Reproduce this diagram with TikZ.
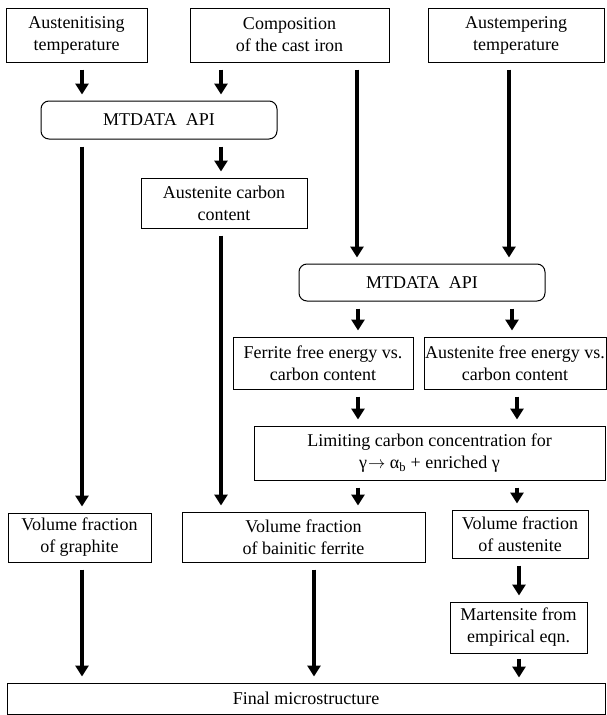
\documentclass[tikz,border=0pt]{standalone}
\usepackage{fontspec}
\setmainfont{Liberation Serif}
\usetikzlibrary{arrows.meta}
\begin{document}
\begin{tikzpicture}[x=1pt,y=-1pt,
  box/.style={draw, line width=1pt, align=center, inner sep=0pt, font=\rmfamily\fontsize{18}{22}\selectfont},
  rbox/.style={box, rounded corners=8pt},
  arr/.style={line width=3.2pt, -{Triangle[width=13pt,length=11pt]}, shorten <=7pt, shorten >=6pt}]
\useasboundingbox (0,0) rectangle (607,715);
% columns
\coordinate (c1) at (82,0);
\coordinate (c2) at (221,0);
\coordinate (c3) at (357,0);
\coordinate (c4) at (509,0);
\coordinate (c5) at (358,0);
\coordinate (c6) at (512,0);
\coordinate (c7) at (517,0);
\coordinate (c8) at (314,0);
\coordinate (c9) at (519,0);
% nodes
\node[box, minimum width=141pt, minimum height=54pt] (A1) at (76.5,35) {Austenitising\\temperature};
\node[box, minimum width=199pt, minimum height=54pt] (A2) at (289.5,35) {Composition\\of the cast iron};
\node[box, minimum width=176pt, minimum height=54pt] (A3) at (516,35) {Austempering\\temperature};
\node[rbox, minimum width=236pt, minimum height=38pt] (M1) at (159,120) {MTDATA\ \ API};
\node[box, minimum width=166pt, minimum height=50pt] (AC) at (224,203) {Austenite carbon\\content};
\node[rbox, minimum width=246pt, minimum height=37pt] (M2) at (422,282.5) {MTDATA\ \ API};
\node[box, minimum width=180pt, minimum height=52pt] (FF) at (323,363) {Ferrite free energy vs.\\carbon content};
\node[box, minimum width=182pt, minimum height=52pt] (AF) at (515,363) {Austenite free energy vs.\\carbon content};
\node[box, minimum width=351pt, minimum height=54pt] (L) at (429.5,453) {Limiting carbon concentration for\\γ\kern1pt$\rightarrow$\ α\textsubscript{b} + enriched γ};
\node[box, minimum width=143pt, minimum height=49pt] (G) at (79.5,537.5) {Volume fraction\\of graphite};
\node[box, minimum width=243pt, minimum height=50pt] (BF) at (303.5,537) {Volume fraction\\of bainitic ferrite};
\node[box, minimum width=136pt, minimum height=48pt] (AU) at (520,534) {Volume fraction\\of austenite};
\node[box, minimum width=137pt, minimum height=51pt] (MS) at (518.5,627.5) {Martensite from\\empirical eqn.};
\node[box, minimum width=598pt, minimum height=31pt] (F) at (306,698.5) {Final microstructure};
% connectors
\draw[arr] (c1 |- A1.south) -- (c1 |- M1.north);
\draw[arr] (c2 |- A2.south) -- (c2 |- M1.north);
\draw[arr] (c1 |- M1.south) -- (c1 |- G.north);
\draw[arr] (c2 |- M1.south) -- (c2 |- AC.north);
\draw[arr] (c2 |- AC.south) -- (c2 |- BF.north);
\draw[arr] (c3 |- A2.south) -- (c3 |- M2.north);
\draw[arr] (c4 |- A3.south) -- (c4 |- M2.north);
\draw[arr] (c5 |- M2.south) -- (c5 |- FF.north);
\draw[arr] (c6 |- M2.south) -- (c6 |- AF.north);
\draw[arr] (c5 |- FF.south) -- (c5 |- L.north);
\draw[arr] (c7 |- AF.south) -- (c7 |- L.north);
\draw[arr] (c5 |- L.south) -- (c5 |- BF.north);
\draw[arr] (c7 |- L.south) -- (c7 |- AU.north);
\draw[arr] (c1 |- G.south) -- (c1 |- F.north);
\draw[arr] (c8 |- BF.south) -- (c8 |- F.north);
\draw[arr] (c9 |- AU.south) -- (c9 |- MS.north);
\draw[arr, shorten <=5pt, shorten >=5pt] (c9 |- MS.south) -- (c9 |- F.north);
\end{tikzpicture}
\end{document}
